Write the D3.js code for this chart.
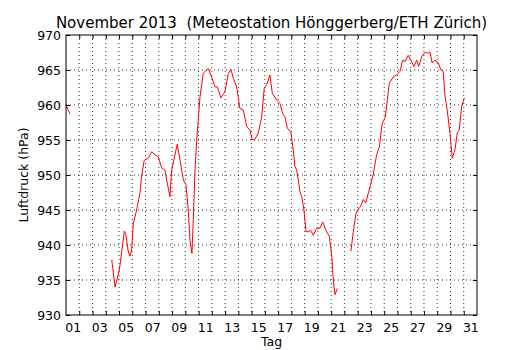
<!DOCTYPE html>
<html>
<head>
<meta charset="utf-8">
<script src="https://cdn.jsdelivr.net/npm/d3@7"></script>
<style>
  body { margin: 0; background: #fff; }
  svg { display: block; font-family: "DejaVu Sans", sans-serif; }
</style>
</head>
<body>
<svg id="chart" width="530" height="350"></svg>
<script>
// days since 1 Nov 00:00, pressure in hPa (null = no data)
const days = [
  0.00, 0.30, 1.0,
  3.45, 3.70, 4.02, 4.20, 4.40, 4.50, 4.70, 4.83, 4.95, 5.08, 5.33, 5.58, 5.71,
  5.90, 6.21, 6.46, 6.71, 6.96, 7.22, 7.47, 7.59, 7.84, 7.97, 8.09, 8.39, 8.60,
  8.85, 9.05, 9.22, 9.35, 9.50, 9.60, 9.73, 9.86, 10.11, 10.35, 10.54, 10.73,
  10.99, 11.24, 11.41, 11.69, 11.99, 12.24, 12.44, 12.62, 12.87, 13.12, 13.37,
  13.63, 13.88, 14.05, 14.25, 14.50, 14.76, 14.95, 15.14, 15.38, 15.56, 15.89,
  16.14, 16.34, 16.52, 16.69, 16.95, 17.14, 17.27, 17.40, 17.52, 17.65, 17.78,
  17.95, 18.10, 18.27, 18.45, 18.65, 18.91, 19.16, 19.36, 19.61, 19.86, 20.04,
  20.16, 20.29, 20.46, 21.0,
  21.49, 21.67, 21.87, 22.04, 22.22, 22.42, 22.60, 22.80, 23.00, 23.17, 23.43,
  23.63, 23.85, 24.06, 24.23, 24.38, 24.68, 24.94, 25.19, 25.39, 25.57, 25.81,
  26.07, 26.24, 26.45, 26.60, 26.83, 27.07, 27.32, 27.45, 27.62, 27.83, 28.08,
  28.28, 28.45, 28.58, 28.75, 28.96, 29.13, 29.34, 29.51, 29.66, 29.84, 30.04
];
const pressure = [
  960.0, 958.7, null,
  937.9, 934.0, 936.4, 939.0, 942.0, 941.6, 939.0, 938.4, 939.3, 943.1, 945.0, 947.4, 950.0,
  952.1, 952.4, 953.3, 952.9, 952.6, 951.0, 950.7, 949.3, 946.9, 950.7, 951.7, 954.4, 952.1,
  949.3, 948.6, 945.0, 940.7, 938.8, 943.6, 950.7, 955.0, 961.2, 964.5, 964.9, 965.2,
  964.0, 962.6, 962.6, 961.0, 961.9, 964.5, 965.1, 963.8, 962.6, 959.5, 959.3,
  956.9, 956.4, 955.0, 955.1, 956.0, 958.3, 962.4, 962.9, 964.3, 961.7, 960.7,
  960.2, 958.8, 958.3, 956.7, 956.2, 953.6, 951.2, 950.7, 949.3, 947.6, 946.9,
  945.0, 941.9, 941.9, 942.1, 941.4, 942.4, 942.4, 943.3, 942.1, 941.2, 938.6,
  935.0, 932.9, 933.8, null,
  939.1, 941.9, 944.5, 945.1, 945.5, 946.5, 946.0, 947.4, 948.8, 950.0, 952.9,
  954.0, 957.4, 958.1, 960.5, 963.1, 964.0, 964.3, 964.8, 966.4, 966.2, 967.1,
  966.2, 965.5, 966.4, 965.5, 966.9, 967.5, 967.4, 967.6, 966.0, 966.4, 966.0,
  965.0, 964.8, 961.4, 959.3, 956.0, 952.4, 953.6, 956.0, 956.4, 959.8, 961.0
];
const yTicks = [930, 935, 940, 945, 950, 955, 960, 965, 970];
const dayLabels = ['01', '03', '05', '07', '09', '11', '13', '15', '17', '19',
                   '21', '23', '25', '27', '29', '31'];

const title  = 'November 2013  (Meteostation H\u00f6nggerberg/ETH Z\u00fcrich)';
const xTitle = 'Tag';
const yTitle = 'Luftdruck (hPa)';

/* ************************************************************ *
 *   Scale
 * ************************************************************ */
const box = { left: 66, right: 477, top: 35, bottom: 315 };

const x = d3.scaleLinear().domain([0, 31]).range([box.left, box.right]);
const y = d3.scaleLinear().domain([930, 970]).range([box.bottom, box.top]);

const svg = d3.select('#chart');
const font = 12.5;

/* ************************************************************ *
 *   Grid
 * ************************************************************ */
const dayBounds = d3.range(1, 31);

svg.append('g').attr('class', 'grid')
  .selectAll('line.v')
  .data(dayBounds)
  .enter()
  .append('line')
  .attr('x1', (d) => x(d)).attr('x2', (d) => x(d))
  .attr('y1', box.top).attr('y2', box.bottom)
  .attr('stroke', '#000').attr('stroke-width', 0.8)
  .attr('stroke-dasharray', '1,3');

svg.select('g.grid')
  .selectAll('line.h')
  .data(yTicks.slice(1, -1))
  .enter()
  .append('line')
  .attr('x1', box.left).attr('x2', box.right)
  .attr('y1', (d) => y(d)).attr('y2', (d) => y(d))
  .attr('stroke', '#000').attr('stroke-width', 0.8)
  .attr('stroke-dasharray', '1,3');

/* ************************************************************ *
 *   Line
 * ************************************************************ */
const points = days.map((d, i) => ({ t: d, p: pressure[i] }));

const line = d3.line()
  .defined((d) => d.p !== null)
  .x((d) => x(d.t))
  .y((d) => y(d.p));

svg.append('path')
  .datum(points)
  .attr('fill', 'none')
  .attr('stroke', '#ff0000')
  .attr('stroke-width', 1)
  .attr('stroke-linejoin', 'round')
  .attr('d', line);

/* ************************************************************ *
 *   Axes
 * ************************************************************ */
const tidy = (g) => {
  g.select('.domain').remove();
  g.selectAll('line').attr('stroke', '#000');
  g.selectAll('text').attr('font-size', font).attr('fill', '#000')
    .attr('font-family', '"DejaVu Sans", sans-serif');
};

svg.append('g')
  .attr('transform', `translate(0,${box.bottom})`)
  .call(d3.axisBottom(x).tickValues(dayBounds).tickSize(-4).tickFormat(''))
  .call(tidy);

svg.append('g')
  .attr('transform', `translate(0,${box.top})`)
  .call(d3.axisTop(x).tickValues(dayBounds).tickSize(-4).tickFormat(''))
  .call(tidy);

svg.append('g')
  .attr('transform', `translate(0,${box.bottom})`)
  .call(d3.axisBottom(x)
    .tickValues(dayLabels.map((d) => +d - 0.5))
    .tickSize(0).tickPadding(8)
    .tickFormat((d, i) => dayLabels[i]))
  .call(tidy);

svg.append('g')
  .attr('transform', `translate(${box.left},0)`)
  .call(d3.axisLeft(y).tickValues(yTicks).tickSize(-4).tickPadding(5))
  .call(tidy);

svg.append('g')
  .attr('transform', `translate(${box.right},0)`)
  .call(d3.axisRight(y).tickValues(yTicks).tickSize(-4).tickFormat(''))
  .call(tidy);

svg.append('rect')
  .attr('x', box.left).attr('y', box.top)
  .attr('width', box.right - box.left).attr('height', box.bottom - box.top)
  .attr('fill', 'none').attr('stroke', '#000').attr('stroke-width', 1);

/* ************************************************************ *
 *   Titles
 * ************************************************************ */
const midX = (box.left + box.right) / 2;

svg.append('text')
  .attr('x', midX).attr('y', 28)
  .attr('text-anchor', 'middle').attr('font-size', 15)
  .style('white-space', 'pre')
  .text(title);

svg.append('text')
  .attr('x', midX).attr('y', 346)
  .attr('text-anchor', 'middle').attr('font-size', font)
  .text(xTitle);

svg.append('text')
  .attr('transform', `translate(28,${(box.top + box.bottom) / 2}) rotate(-90)`)
  .attr('text-anchor', 'middle').attr('font-size', font)
  .text(yTitle);
</script>
</body>
</html>
